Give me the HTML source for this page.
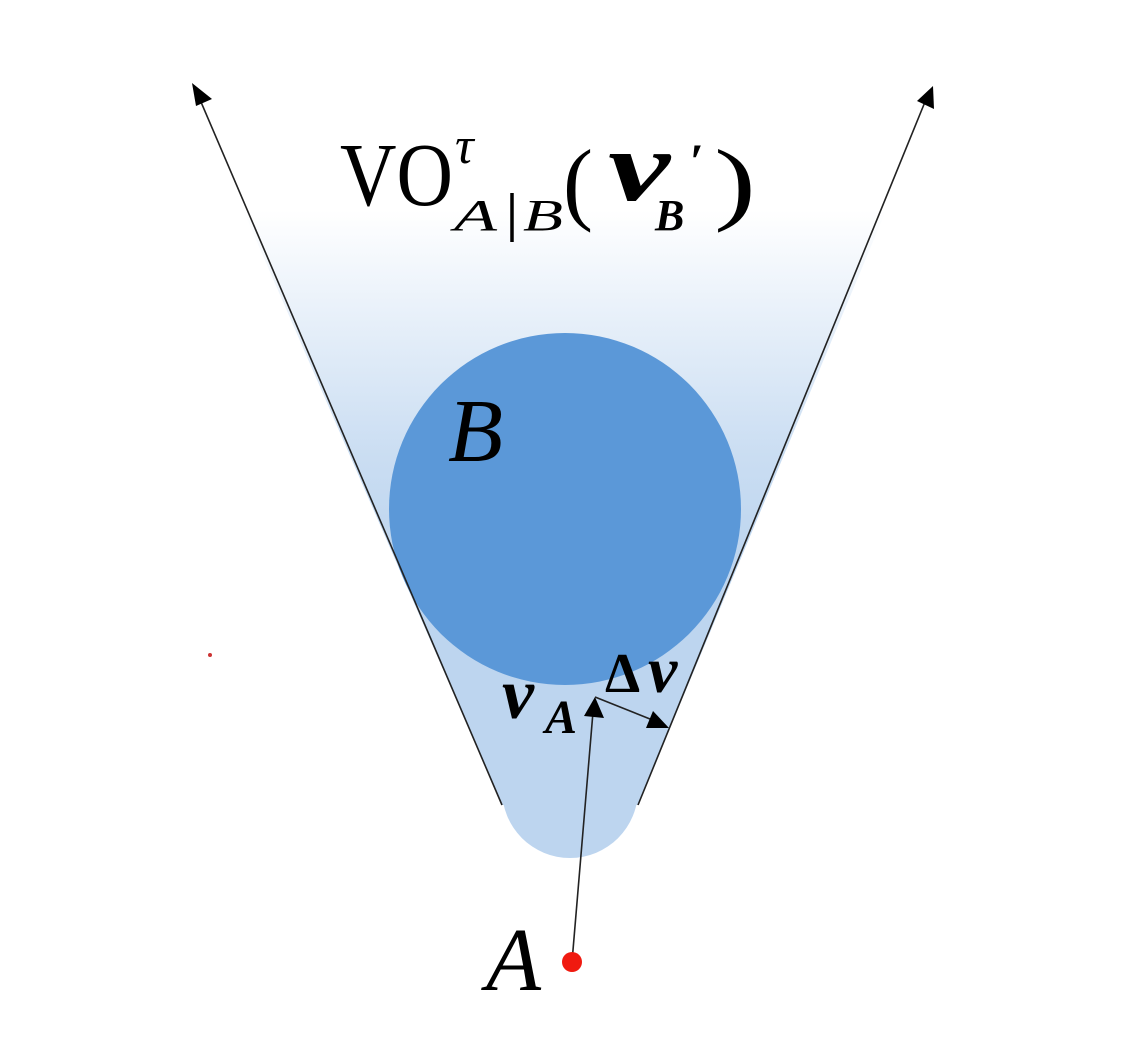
<!DOCTYPE html>
<html><head><meta charset="utf-8"><style>
html,body{margin:0;padding:0;background:#fff;}
svg{display:block;}
text{font-family:"Liberation Serif","DejaVu Serif",serif;fill:#000;}
</style></head><body>
<svg width="1125" height="1042" viewBox="0 0 1125 1042" xmlns="http://www.w3.org/2000/svg">
<defs>
<linearGradient id="cg" gradientUnits="userSpaceOnUse" x1="0" y1="210" x2="0" y2="560">
<stop offset="0" stop-color="#bdd5ef" stop-opacity="0"/>
<stop offset="0.3" stop-color="#bdd5ef" stop-opacity="0.35"/>
<stop offset="0.7" stop-color="#bdd5ef" stop-opacity="0.8"/>
<stop offset="1" stop-color="#bdd5ef" stop-opacity="1"/>
</linearGradient>
</defs>
<polygon points="502,805 638,805 937,88 190,88" fill="url(#cg)"/>
<circle cx="570" cy="790" r="68" fill="#bdd5ef"/>
<circle cx="565" cy="509" r="176" fill="#5b98d8"/>
<line x1="502" y1="805" x2="198" y2="95" stroke="#222" stroke-width="1.6"/>
<polygon points="192,83 212,99 196,106" fill="#000"/>
<line x1="638" y1="805" x2="927" y2="97" stroke="#222" stroke-width="1.6"/>
<polygon points="933,86 934,109 917,101" fill="#000"/>
<line x1="572" y1="962" x2="593" y2="712" stroke="#222" stroke-width="1.6"/>
<polygon points="595,697 604,718 584,716" fill="#000"/>
<line x1="595" y1="697" x2="655" y2="721" stroke="#222" stroke-width="1.6"/>
<polygon points="669,728 646,728 653,711" fill="#000"/>
<circle cx="572" cy="962" r="10" fill="#f01a10"/>
<circle cx="210" cy="655" r="2" fill="#c33"/>
<text x="486" y="990" font-size="90" font-style="italic">A</text>
<text x="448" y="461" font-size="90" font-style="italic">B</text>
<text x="502" y="718" font-size="72" font-style="italic" font-weight="bold">v</text>
<text x="545" y="733" font-size="48" font-style="italic" font-weight="bold">A</text>
<text x="605" y="692" font-size="56" font-weight="bold">Δ</text>
<text x="648" y="692" font-size="66" font-style="italic" font-weight="bold">v</text>
<text x="340" y="205" font-size="90" textLength="113" lengthAdjust="spacingAndGlyphs">VO</text>
<text x="455" y="163" font-size="52" font-style="italic">τ</text>
<text x="454" y="230" font-size="44" font-style="italic" textLength="43" lengthAdjust="spacingAndGlyphs">A</text>
<line x1="512" y1="193" x2="512" y2="242" stroke="#000" stroke-width="3.5"/>
<text x="523" y="230" font-size="44" font-style="italic" textLength="40" lengthAdjust="spacingAndGlyphs">B</text>
<text x="563" y="213" font-size="92" textLength="30" lengthAdjust="spacingAndGlyphs">(</text>
<text x="608" y="200" font-size="100" font-style="italic" font-weight="bold" textLength="62" lengthAdjust="spacingAndGlyphs">v</text>
<text x="690" y="178" font-size="50" font-weight="bold">′</text>
<text x="655" y="230" font-size="44" font-style="italic" font-weight="bold">B</text>
<text x="714" y="213" font-size="92" textLength="42" lengthAdjust="spacingAndGlyphs">)</text>
</svg>
</body></html>
